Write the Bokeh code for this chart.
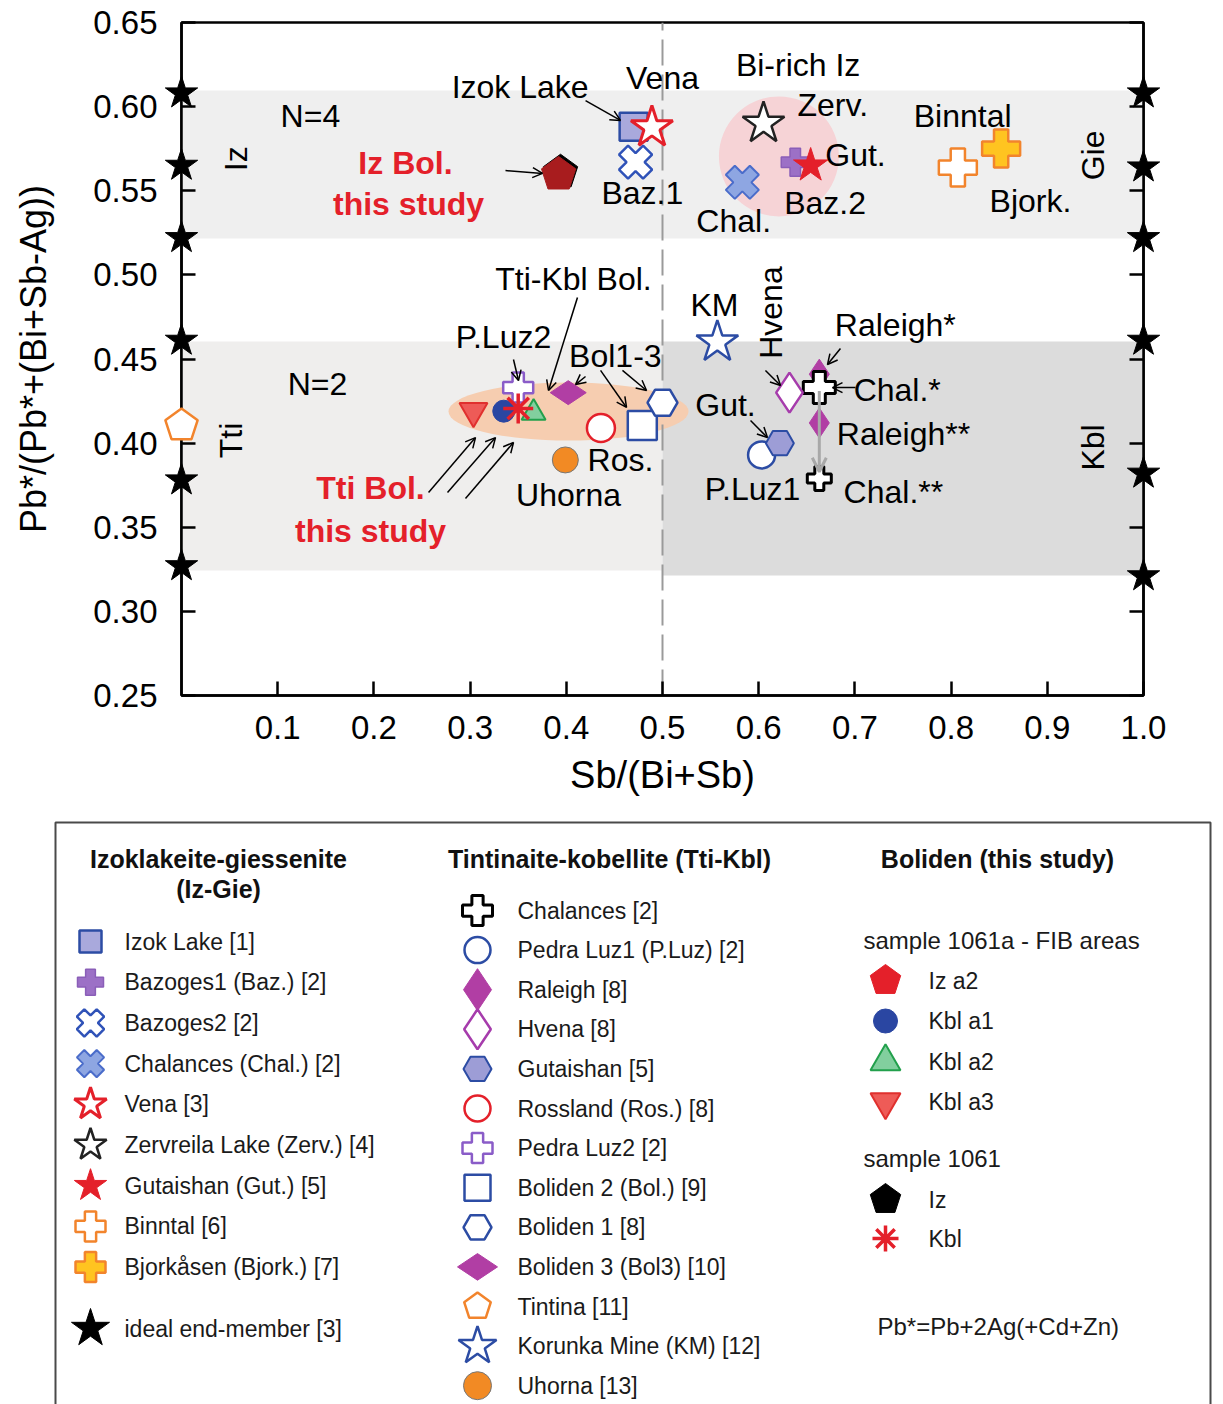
import math
from bokeh.plotting import figure
from bokeh.models import ColumnDataSource, Range1d, FixedTicker, LinearAxis, Label, Arrow, OpenHead
from bokeh.embed import file_html
from bokeh.resources import INLINE
from bokeh.core.properties import value

FONT = "Liberation Sans"

# ------------------------------------------------------------------ data
X_TICKS = [0.1, 0.2, 0.3, 0.4, 0.5, 0.6, 0.7, 0.8, 0.9, 1.0]
X_TICK_LABELS = ["0.1", "0.2", "0.3", "0.4", "0.5", "0.6", "0.7", "0.8", "0.9", "1.0"]
Y_TICKS = [0.25, 0.30, 0.35, 0.40, 0.45, 0.50, 0.55, 0.60, 0.65]
Y_TICK_LABELS = ["0.25", "0.30", "0.35", "0.40", "0.45", "0.50", "0.55", "0.60", "0.65"]
X_LABEL = "Sb/(Bi+Sb)"
Y_LABEL = "Pb*/(Pb*+(Bi+Sb-Ag))"

# compositional fields
FIELD_NAMES = ["Iz-Gie", "Tti", "Kbl"]
FIELD_LEFT = [0.0, 0.0, 0.5]
FIELD_RIGHT = [1.0, 0.5, 1.0]
FIELD_BOTTOM = [0.5216, 0.3243, 0.3213]
FIELD_TOP = [0.6096, 0.4604, 0.4604]
SB_BI_DIVIDE = 0.5

# ideal end-members (stars on the frame)
END_LEFT_X = [0.0, 0.0, 0.0, 0.0, 0.0, 0.0]
END_LEFT_Y = [0.608, 0.565, 0.522, 0.461, 0.378, 0.327]
END_RIGHT_X = [1.0, 1.0, 1.0, 1.0, 1.0, 1.0]
END_RIGHT_Y = [0.608, 0.564, 0.522, 0.461, 0.382, 0.321]
END_RIGHT_LABELS = ["x=0", "x=1", "T=0", "x=0", "x=1", "T=0"]

# trend areas (centre x, centre y, width, height)
BI_RICH_IZ = [0.621, 0.5704, 0.1247, 0.0713]
TTI_BOL_AREA = [0.4023, 0.4188, 0.2495, 0.0345]

# Izoklakeite-giessenite literature
IZ_SERIES = ["Izok Lake", "Bazoges2", "Chalances (Chal.)", "Bazoges1", "Gutaishan (Gut.)",
             "Zervreila Lake", "Vena", "Binntal", "Bjorkasen"]
IZ_X = [0.470, 0.472, 0.583, 0.638, 0.654, 0.605, 0.489, 0.807, 0.852]
IZ_Y = [0.588, 0.567, 0.555, 0.567, 0.565, 0.590, 0.5876, 0.5638, 0.5751]

# Tintinaite-kobellite literature
TK_SERIES = ["Raleigh", "Chalances", "Raleigh", "Chalances", "Hvena", "Pedra Luz1",
             "Gutaishan", "Rossland", "Boliden 2", "Boliden 1", "Boliden 3", "Pedra Luz2",
             "Tintina", "Korunka Mine", "Uhorna"]
TK_TAGS = ["Raleigh*", "Chal.*", "Raleigh**", "Chal.**", "Hvena", "P.Luz1", "Gut.", "Ros.",
           "Bol.2", "Bol.1", "Bol3", "P.Luz2", "Tintina", "KM", "Uhorna"]
TK_X = [0.663, 0.663, 0.663, 0.663, 0.632, 0.603, 0.622, 0.436, 0.479, 0.500, 0.402, 0.350,
        0.0, 0.557, 0.399]
TK_Y = [0.441, 0.433, 0.412, 0.379, 0.430, 0.393, 0.400, 0.409, 0.4105, 0.424, 0.430, 0.433,
        0.4105, 0.460, 0.390]

# Boliden, this study
BOL_SERIES = ["Iz", "Iz a2", "Kbl a3", "Kbl a2", "Kbl a1", "Kbl"]
BOL_X = [0.394, 0.392, 0.3035, 0.366, 0.335, 0.350]
BOL_Y = [0.561, 0.5597, 0.419, 0.418, 0.419, 0.4206]

# ------------------------------------------------------------------ styles
PI = math.pi
RED = "#e4202a"
BLUE = "#2c4ca4"
STYLE = {
    "Izok Lake": dict(marker="square", fill="#a9a9dc", line=BLUE, lw=2.5, size=28, lsize=22),
    "Bazoges1": dict(marker="plus", fill="#9c70c6", line="#8a5eb8", lw=1.5, size=28, lsize=26),
    "Bazoges2": dict(marker="plus", angle=PI / 4, fill="white", line="#2f52b8", lw=2.5, size=34, lsize=28),
    "Chalances (Chal.)": dict(marker="plus", angle=PI / 4, fill="#8ea6e2", line="#4a6cca", lw=2, size=34, lsize=28),
    "Vena": dict(marker="star", fill="white", line=RED, lw=3, size=44, lsize=34),
    "Zervreila Lake": dict(marker="star", fill="white", line="#222222", lw=2.5, size=44, lsize=34),
    "Gutaishan (Gut.)": dict(marker="star", fill=RED, line=RED, lw=1, size=36, lsize=34),
    "Binntal": dict(marker="plus", fill="white", line="#f2842c", lw=2.5, size=38, lsize=30),
    "Bjorkasen": dict(marker="plus", fill="#ffc420", line="#f2842c", lw=2.5, size=38, lsize=30),
    "ideal": dict(marker="star", fill="black", line="black", lw=1, size=34, lsize=40),
    "Chalances": dict(marker="plus", fill="white", line="black", lw=3, size=30, lsize=30),
    "Pedra Luz1": dict(marker="circle", fill="white", line=BLUE, lw=2.5, size=27, lsize=26),
    "Raleigh": dict(marker="diamond", fill="#b13ea4", line="#b13ea4", lw=1, size=30, lsize=42),
    "Hvena": dict(marker="diamond", fill="white", line="#a63cac", lw=2.5, size=40, lsize=40),
    "Gutaishan": dict(marker="hex", fill="#9d9dd6", line=BLUE, lw=2, size=28, lsize=28),
    "Rossland": dict(marker="circle", fill="white", line=RED, lw=2.5, size=28, lsize=26),
    "Pedra Luz2": dict(marker="plus", fill="white", line="#8a5cc8", lw=2.5, size=30, lsize=30),
    "Boliden 2": dict(marker="square", fill="white", line=BLUE, lw=2.5, size=29, lsize=26),
    "Boliden 1": dict(marker="hex", fill="white", line=BLUE, lw=2.5, size=30, lsize=28),
    "Boliden 3": dict(marker="diamond", angle=PI / 2, fill="#b13ea4", line="#b13ea4", lw=1, size=36, lsize=40),
    "Tintina": dict(marker="pentagon", fill="white", line="#f2842c", lw=2.5, size=34, lsize=28),
    "Korunka Mine": dict(marker="star", fill="white", line=BLUE, lw=2.5, size=44, lsize=40),
    "Uhorna": dict(marker="circle", fill="#f28a24", line="#777777", lw=1, size=26, lsize=28),
    "Iz a2": dict(marker="pentagon", fill="#a81c1e", line="#a81c1e", lw=1, size=36, lsize=32),
    "Kbl a1": dict(marker="circle", fill="#2a46a2", line="#2a46a2", lw=1, size=22, lsize=24),
    "Kbl a2": dict(marker="triangle", fill="#82cf9e", line="#22a04c", lw=2, size=24, lsize=30),
    "Kbl a3": dict(marker="inverted_triangle", fill="#ee5b57", line="#e0302e", lw=2, size=28, lsize=30),
    "Iz": dict(marker="pentagon", fill="black", line="black", lw=1, size=36, lsize=32),
    "Kbl": dict(marker="asterisk", fill=RED, line=RED, lw=3.5, size=30, lsize=26),
}
LEGEND_STYLE_OVERRIDE = {"Iz a2": dict(fill=RED, line=RED)}
SIZE_OVERRIDE = {"Chal.*": 32, "Chal.**": 24}
FIELD_COLORS = ["#efefef", "#efeeed", "#dcdcdc"]
PENT_ANGLE = 0.0

PX_X = 962.0     # pixels per x unit (frame)
PX_Y = 1682.5    # pixels per y unit (frame)


def add_marker(fig, xs, ys, st, size, level="glyph", ysign=1.0, fill=None, line=None):
    kw = dict(fill_color=fill or st["fill"], line_color=line or st["line"],
              line_width=st["lw"], level=level)
    if st["marker"] == "pentagon":
        if hasattr(fig, "ngon"):
            fig.ngon(x=xs, y=ys, radius=size / 2, radius_units="screen", n=5,
                     angle=PENT_ANGLE, **kw)
        else:
            pxs, pys = [], []
            for x0, y0 in zip(xs, ys):
                r = size / 2
                angs = [PI / 2 + 2 * PI * k / 5 for k in range(5)]
                pxs.append([x0 + r * math.cos(a) / fig._px_x for a in angs])
                pys.append([y0 + ysign * r * math.sin(a) / fig._px_y for a in angs])
            fig.patches(xs=pxs, ys=pys, **kw)
    else:
        fig.scatter(x=xs, y=ys, marker=st["marker"], size=size, angle=st.get("angle", 0.0), **kw)


# ------------------------------------------------------------------ main plot
p = figure(width=1223, height=815, x_range=Range1d(0, 1), y_range=Range1d(0.25, 0.65),
           output_backend="svg", toolbar_location=None,
           min_border_left=181, min_border_right=80, min_border_top=22, min_border_bottom=120)
p._px_x = PX_X
p._px_y = PX_Y
p.xgrid.visible = False
p.ygrid.visible = False
p.outline_line_color = "black"
p.outline_line_width = 2.5

for ax in (p.xaxis[0], p.yaxis[0]):
    ax.axis_line_width = 2.5
    ax.major_tick_line_width = 2.5
    ax.major_tick_in = 14
    ax.major_tick_out = 0
    ax.minor_tick_line_color = None
    ax.major_label_text_font = FONT
    ax.major_label_text_font_size = "33px"
    ax.major_label_text_color = "black"
    ax.axis_label_text_font = FONT
    ax.axis_label_text_font_style = "normal"
    ax.axis_label_text_color = "black"

p.xaxis.ticker = FixedTicker(ticks=X_TICKS)
p.xaxis.major_label_overrides = {t: s for t, s in zip(X_TICKS, X_TICK_LABELS)}
p.xaxis.axis_label = X_LABEL
p.xaxis.axis_label_text_font_size = "38px"
p.xaxis.major_label_standoff = 20
p.xaxis.axis_label_standoff = 12

p.yaxis.ticker = FixedTicker(ticks=Y_TICKS)
p.yaxis.major_label_overrides = {t: s for t, s in zip(Y_TICKS, Y_TICK_LABELS)}
p.yaxis.axis_label = Y_LABEL
p.yaxis.axis_label_text_font_size = "36px"
p.yaxis.major_label_standoff = 24
p.yaxis.axis_label_standoff = 36

right_axis = LinearAxis(ticker=FixedTicker(ticks=Y_TICKS), axis_line_width=2.5,
                        major_tick_line_width=2.5, major_tick_in=14, major_tick_out=0,
                        minor_tick_line_color=None,
                        major_label_overrides={t: "" for t in Y_TICKS})
p.add_layout(right_axis, "right")

# fields
p.quad(left=FIELD_LEFT, right=FIELD_RIGHT, bottom=FIELD_BOTTOM, top=FIELD_TOP,
       fill_color=FIELD_COLORS, line_color=None)
# trend areas
p.ellipse(x=[BI_RICH_IZ[0]], y=[BI_RICH_IZ[1]], width=[BI_RICH_IZ[2]], height=[BI_RICH_IZ[3]],
          fill_color="#f6d3d6", line_color=None)
p.ellipse(x=[TTI_BOL_AREA[0]], y=[TTI_BOL_AREA[1]], width=[TTI_BOL_AREA[2]], height=[TTI_BOL_AREA[3]],
          fill_color="#f6cdb0", line_color=None)
# Sb/Bi = 0.5 divide
p.segment(x0=[SB_BI_DIVIDE], y0=[0.25], x1=[SB_BI_DIVIDE], y1=[0.65],
          line_color="#9a9a9a", line_width=2, line_dash="26 9")

# Iz-Gie literature data
for name in IZ_SERIES:
    idx = [i for i, s in enumerate(IZ_SERIES) if s == name]
    add_marker(p, [IZ_X[i] for i in idx], [IZ_Y[i] for i in idx], STYLE[name], STYLE[name]["size"])

# Tti-Kbl literature data
for i, name in enumerate(TK_SERIES):
    st = STYLE[name]
    size = SIZE_OVERRIDE.get(TK_TAGS[i], st["size"])
    lvl = "overlay" if TK_X[i] <= 0.0 else "glyph"
    add_marker(p, [TK_X[i]], [TK_Y[i]], st, size, level=lvl)

# Boliden this study
for i, name in enumerate(BOL_SERIES):
    st = STYLE[name]
    add_marker(p, [BOL_X[i]], [BOL_Y[i]], st, st["size"])

# ideal end members
add_marker(p, END_LEFT_X, END_LEFT_Y, STYLE["ideal"], STYLE["ideal"]["size"], level="overlay")
add_marker(p, END_RIGHT_X, END_RIGHT_Y, STYLE["ideal"], STYLE["ideal"]["size"], level="overlay")
for yv, t in zip(END_RIGHT_Y, END_RIGHT_LABELS):
    p.add_layout(Label(x=1.0215, y=yv, text=t, text_font=FONT, text_font_size="30px",
                       text_align="left", text_baseline="middle", text_color="black"))

# text annotations in the frame
NOTE_TEXT = ["Izok Lake", "Vena", "Bi-rich Iz", "Zerv.", "Gut.", "Baz.2", "Chal.", "Baz.1",
             "Binntal", "Bjork.", "N=4", "Tti-Kbl Bol.", "P.Luz2", "Bol1-3", "N=2", "Ros.",
             "Uhorna", "KM", "Raleigh*", "Chal.*", "Gut.", "Raleigh**", "P.Luz1", "Chal.**"]
NOTE_X = [0.352, 0.500, 0.641, 0.677, 0.7006, 0.669, 0.574, 0.479,
          0.812, 0.8825, 0.134, 0.4075, 0.3347, 0.451, 0.1414, 0.4563,
          0.4023, 0.554, 0.742, 0.744, 0.5655, 0.7505, 0.5936, 0.740]
NOTE_Y = [0.6114, 0.6173, 0.625, 0.6007, 0.571, 0.543, 0.5323, 0.5484,
          0.5947, 0.5442, 0.5947, 0.4978, 0.4628, 0.452, 0.4354, 0.3897,
          0.3689, 0.4818, 0.470, 0.4313, 0.4224, 0.4057, 0.373, 0.3707]
p.text(x=NOTE_X, y=NOTE_Y, text=NOTE_TEXT, text_font=value(FONT), text_font_size="32px",
       text_align="center", text_baseline="middle", text_color="black")

ROT_TEXT = ["Iz", "Tti", "Gie", "Kbl", "Hvena"]
ROT_X = [0.057, 0.051, 0.947, 0.947, 0.6123]
ROT_Y = [0.569, 0.4016, 0.571, 0.3974, 0.4776]
p.text(x=ROT_X, y=ROT_Y, text=ROT_TEXT, angle=PI / 2, text_font=value(FONT),
       text_font_size="32px", text_align="center", text_baseline="middle", text_color="black")

STUDY_TEXT = ["Iz Bol.", "this study", "Tti Bol.", "this study"]
STUDY_X = [0.2328, 0.236, 0.1965, 0.1965]
STUDY_Y = [0.5662, 0.5424, 0.3736, 0.348]
p.text(x=STUDY_X, y=STUDY_Y, text=STUDY_TEXT, text_font=value(FONT), text_font_size="32px",
       text_font_style="bold", text_align="center", text_baseline="middle", text_color=RED)

p.add_layout(Label(x=-0.0593, y=0.4253, text="Tintina", text_font=FONT, text_font_size="32px",
                   text_align="center", text_baseline="middle", text_color="black"))

# pointer arrows: (x_start, y_start, x_end, y_end)
POINTERS = [
    (0.420, 0.6036, 0.4563, 0.5918),
    (0.3368, 0.562, 0.3753, 0.5603),
    (0.4116, 0.4866, 0.3815, 0.4313),
    (0.3451, 0.4497, 0.3503, 0.4372),
    (0.4200, 0.4396, 0.4096, 0.4348),
    (0.4356, 0.4432, 0.4626, 0.4212),
    (0.4584, 0.4432, 0.4834, 0.4313),
    (0.2568, 0.3707, 0.3056, 0.4033),
    (0.2765, 0.3707, 0.3264, 0.4033),
    (0.2952, 0.3671, 0.3451, 0.4004),
    (0.607, 0.4432, 0.6227, 0.4342),
    (0.685, 0.4562, 0.6715, 0.4467),
    (0.7006, 0.433, 0.6767, 0.433),
    (0.5915, 0.4134, 0.6091, 0.4033),
]
for xs0, ys0, xs1, ys1 in POINTERS:
    p.add_layout(Arrow(x_start=xs0, y_start=ys0, x_end=xs1, y_end=ys1, line_width=1.5,
                       line_color="black",
                       end=OpenHead(size=10, line_width=1.5, line_color="black")))
# Chalances shift arrow (Chal.* -> Chal.**)
p.add_layout(Arrow(x_start=TK_X[1], y_start=TK_Y[1] - 0.002, x_end=TK_X[3], y_end=TK_Y[3] + 0.004,
                   line_width=3, line_color="#a8a8a8",
                   end=OpenHead(size=14, line_width=3, line_color="#a8a8a8")))

# ------------------------------------------------------------------ legend panel (separate root)
LEG_H = 589
LEG_TOP = 815
leg = figure(width=1223, height=LEG_H, x_range=Range1d(0, 1223), y_range=Range1d(LEG_TOP + LEG_H, LEG_TOP),
             output_backend="svg", toolbar_location=None, x_axis_type=None, y_axis_type=None,
             min_border=0, min_border_left=0, min_border_right=0, min_border_top=0, min_border_bottom=0)
leg._px_x = 1.0
leg._px_y = 1.0
leg.outline_line_color = None
leg.grid.visible = False
leg.quad(left=[55], right=[1210], top=[822], bottom=[LEG_TOP + LEG_H + 20], fill_color=None,
         line_color="#4a4a4a", line_width=2, level="overlay")

HEAD_TEXT = ["Izoklakeite-giessenite", "(Iz-Gie)", "Tintinaite-kobellite (Tti-Kbl)", "Boliden (this study)"]
HEAD_X = [218, 218, 609, 997]
HEAD_Y = [858, 888, 858, 858]
leg.text(x=HEAD_X, y=HEAD_Y, text=HEAD_TEXT, text_font=value(FONT), text_font_size="25px",
         text_font_style="bold", text_align="center", text_baseline="middle", text_color="#111111",
         level="overlay")

LEG1_KEYS = ["Izok Lake", "Bazoges1", "Bazoges2", "Chalances (Chal.)", "Vena", "Zervreila Lake",
             "Gutaishan (Gut.)", "Binntal", "Bjorkasen"]
LEG1_TEXT = ["Izok Lake [1]", "Bazoges1 (Baz.) [2]", "Bazoges2 [2]", "Chalances (Chal.) [2]",
             "Vena [3]", "Zervreila Lake (Zerv.) [4]", "Gutaishan (Gut.) [5]", "Binntal [6]",
             "Bjorkåsen (Bjork.) [7]"]
LEG2_KEYS = ["Chalances", "Pedra Luz1", "Raleigh", "Hvena", "Gutaishan", "Rossland", "Pedra Luz2",
             "Boliden 2", "Boliden 1", "Boliden 3", "Tintina", "Korunka Mine", "Uhorna"]
LEG2_TEXT = ["Chalances [2]", "Pedra Luz1 (P.Luz) [2]", "Raleigh [8]", "Hvena [8]", "Gutaishan [5]",
             "Rossland (Ros.) [8]", "Pedra Luz2 [2]", "Boliden 2 (Bol.) [9]", "Boliden 1 [8]",
             "Boliden 3 (Bol3) [10]", "Tintina [11]", "Korunka Mine (KM) [12]", "Uhorna [13]"]
LEG3A_KEYS = ["Iz a2", "Kbl a1", "Kbl a2", "Kbl a3"]
LEG3A_TEXT = ["Iz a2", "Kbl a1", "Kbl a2", "Kbl a3"]
LEG3B_KEYS = ["Iz", "Kbl"]
LEG3B_TEXT = ["Iz", "Kbl"]


def legend_column(keys, texts, mx, tx, y0, dy):
    ys = [y0 + i * dy for i in range(len(keys))]
    for k, yy in zip(keys, ys):
        st = STYLE[k]
        ov = LEGEND_STYLE_OVERRIDE.get(k, {})
        add_marker(leg, [mx], [yy], st, st["lsize"], level="overlay", ysign=-1.0,
                   fill=ov.get("fill"), line=ov.get("line"))
    leg.text(x=[tx] * len(texts), y=ys, text=texts, text_font=value(FONT), text_font_size="23px",
             text_align="left", text_baseline="middle", text_color="#1a1a1a", level="overlay")


legend_column(LEG1_KEYS, LEG1_TEXT, 90, 124, 941, 40.7)
legend_column(["ideal"], ["ideal end-member [3]"], 90, 124, 1328, 40)
legend_column(LEG2_KEYS, LEG2_TEXT, 477, 517, 910, 39.6)
legend_column(LEG3A_KEYS, LEG3A_TEXT, 885, 928, 980, 40.5)
legend_column(LEG3B_KEYS, LEG3B_TEXT, 885, 928, 1199, 39)
leg.text(x=[863, 863, 877], y=[940, 1158, 1326],
         text=["sample 1061a - FIB areas", "sample 1061", "Pb*=Pb+2Ag(+Cd+Zn)"],
         text_font=value(FONT), text_font_size="24px", text_align="left", text_baseline="middle",
         text_color="#1a1a1a", level="overlay")

open("out.html", "w").write(file_html([p, leg], INLINE))
